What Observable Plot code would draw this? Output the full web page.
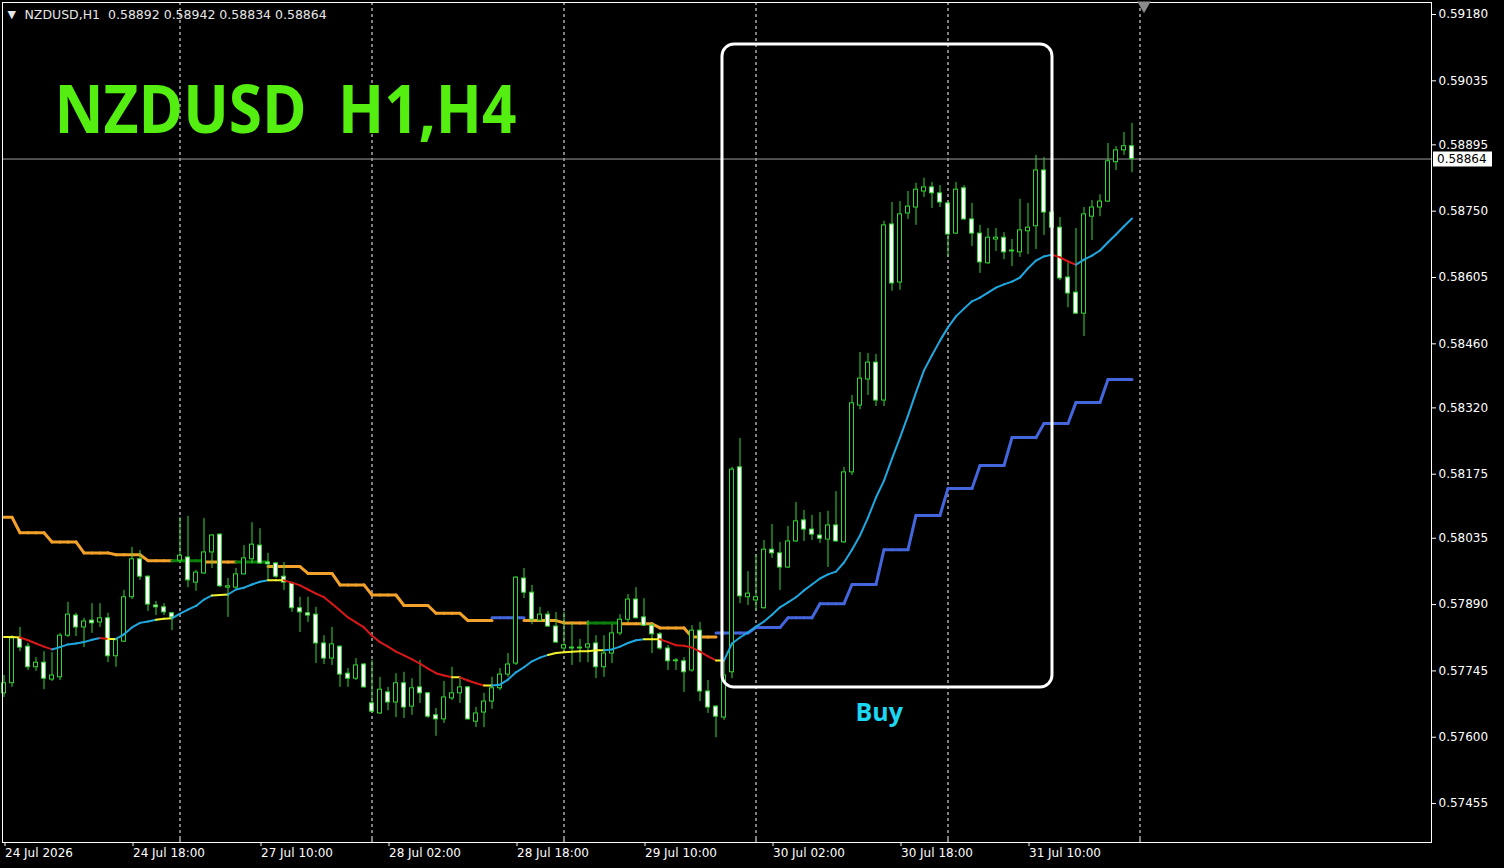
<!DOCTYPE html>
<html><head><meta charset="utf-8">
<script src="https://cdn.jsdelivr.net/npm/d3@7"></script>
<script src="https://cdn.jsdelivr.net/npm/@observablehq/plot@0.6"></script>
<style>html,body{margin:0;padding:0;background:#000;overflow:hidden}</style>
</head><body><div id="chart"></div>
<script>
// ---------- DATA ----------
const symbol = "NZDUSD";
const timeframe = "H1";
const title = "NZDUSD  H1,H4";
const firstBarHour = 2;           // first bar = 24 Jul 2026 02:00
// OHLC of each H1 bar
const candles = [
[0.57696,0.57735,0.57687,0.57718],[0.57718,0.57822,0.57709,0.57816],[0.57816,0.57840,0.57787,0.57796],[0.57798,0.57805,0.57746,0.57753],
[0.57753,0.57774,0.57744,0.57763],[0.57763,0.57787,0.57704,0.57728],[0.57726,0.57785,0.57722,0.57735],[0.57731,0.57827,0.57724,0.57822],
[0.57822,0.57895,0.57818,0.57868],[0.57866,0.57871,0.57820,0.57840],[0.57840,0.57860,0.57796,0.57853],[0.57855,0.57892,0.57827,0.57849],
[0.57851,0.57892,0.57840,0.57860],[0.57860,0.57871,0.57763,0.57777],[0.57777,0.57816,0.57753,0.57812],[0.57809,0.57921,0.57807,0.57906],
[0.57906,0.58015,0.57901,0.57989],[0.57989,0.58008,0.57943,0.57951],[0.57951,0.57953,0.57875,0.57890],[0.57888,0.57897,0.57866,0.57884],
[0.57884,0.57892,0.57866,0.57873],[0.57871,0.57873,0.57833,0.57862],[0.57986,0.58080,0.57980,0.57997],[0.57993,0.58083,0.57927,0.57943],
[0.57938,0.57965,0.57919,0.57960],[0.57958,0.58078,0.57956,0.58004],[0.58004,0.58043,0.57969,0.58041],[0.58043,0.58045,0.57927,0.57930],
[0.57927,0.57947,0.57862,0.57930],[0.57927,0.57969,0.57921,0.57956],[0.57956,0.58019,0.57955,0.57991],[0.57989,0.58069,0.57980,0.58021],
[0.58019,0.58056,0.57978,0.57980],[0.57982,0.58002,0.57943,0.57978],[0.57980,0.57982,0.57947,0.57951],[0.57951,0.57982,0.57921,0.57938],
[0.57936,0.57938,0.57873,0.57882],[0.57882,0.57906,0.57829,0.57873],[0.57871,0.57906,0.57851,0.57866],[0.57868,0.57884,0.57761,0.57805],
[0.57805,0.57822,0.57759,0.57772],[0.57772,0.57840,0.57757,0.57803],[0.57798,0.57800,0.57709,0.57737],[0.57739,0.57750,0.57709,0.57728],
[0.57728,0.57772,0.57724,0.57757],[0.57759,0.57761,0.57707,0.57709],[0.57674,0.57768,0.57652,0.57656],[0.57652,0.57731,0.57650,0.57704],
[0.57698,0.57709,0.57658,0.57676],[0.57676,0.57739,0.57643,0.57718],[0.57718,0.57742,0.57641,0.57665],[0.57667,0.57728,0.57648,0.57707],
[0.57709,0.57768,0.57674,0.57696],[0.57696,0.57698,0.57641,0.57645],[0.57648,0.57663,0.57602,0.57639],[0.57639,0.57722,0.57630,0.57687],
[0.57685,0.57753,0.57680,0.57696],[0.57696,0.57728,0.57674,0.57709],[0.57709,0.57711,0.57637,0.57639],[0.57634,0.57665,0.57621,0.57652],
[0.57654,0.57696,0.57621,0.57678],[0.57678,0.57731,0.57661,0.57707],[0.57707,0.57750,0.57702,0.57737],[0.57737,0.57783,0.57731,0.57759],
[0.57761,0.57951,0.57757,0.57949],[0.57947,0.57969,0.57903,0.57916],[0.57916,0.57932,0.57846,0.57857],[0.57855,0.57884,0.57851,0.57868],
[0.57868,0.57875,0.57840,0.57842],[0.57842,0.57873,0.57805,0.57807],[0.57794,0.57873,0.57790,0.57801],[0.57794,0.57849,0.57757,0.57796],
[0.57794,0.57814,0.57763,0.57796],[0.57796,0.57855,0.57763,0.57803],[0.57805,0.57822,0.57728,0.57753],[0.57753,0.57822,0.57731,0.57783],
[0.57783,0.57846,0.57761,0.57827],[0.57827,0.57868,0.57822,0.57857],[0.57857,0.57912,0.57851,0.57901],[0.57901,0.57927,0.57859,0.57860],
[0.57862,0.57903,0.57842,0.57844],[0.57844,0.57849,0.57783,0.57825],[0.57825,0.57829,0.57790,0.57794],[0.57794,0.57801,0.57746,0.57766],
[0.57766,0.57772,0.57746,0.57768],[0.57766,0.57774,0.57698,0.57742],[0.57746,0.57844,0.57742,0.57833],[0.57833,0.57851,0.57678,0.57700],
[0.57700,0.57724,0.57652,0.57665],[0.57667,0.57669,0.57599,0.57645],[0.57643,0.57768,0.57637,0.57735],[0.57742,0.58190,0.57728,0.58185],
[0.58190,0.58253,0.57892,0.57908],[0.57906,0.57962,0.57888,0.57914],[0.57899,0.57999,0.57877,0.57906],[0.57882,0.58030,0.57880,0.58010],
[0.58010,0.58065,0.57991,0.58002],[0.58002,0.58026,0.57921,0.57971],[0.57971,0.58061,0.57969,0.58028],[0.58028,0.58113,0.58026,0.58072],
[0.58074,0.58096,0.58028,0.58054],[0.58054,0.58085,0.58030,0.58043],[0.58041,0.58091,0.58024,0.58034],[0.58032,0.58094,0.57971,0.58063],
[0.58063,0.58137,0.58026,0.58028],[0.58026,0.58190,0.58024,0.58179],[0.58179,0.58347,0.58172,0.58330],[0.58325,0.58441,0.58316,0.58384],
[0.58382,0.58439,0.58347,0.58419],[0.58419,0.58437,0.58323,0.58336],[0.58336,0.58728,0.58323,0.58719],[0.58721,0.58769,0.58575,0.58592],
[0.58594,0.58771,0.58577,0.58743],[0.58745,0.58793,0.58732,0.58760],[0.58758,0.58811,0.58719,0.58797],[0.58793,0.58822,0.58780,0.58802],
[0.58802,0.58813,0.58756,0.58789],[0.58789,0.58806,0.58758,0.58769],[0.58767,0.58769,0.58649,0.58699],[0.58701,0.58813,0.58699,0.58797],
[0.58800,0.58806,0.58730,0.58732],[0.58732,0.58767,0.58673,0.58701],[0.58701,0.58719,0.58614,0.58638],[0.58636,0.58712,0.58634,0.58692],
[0.58688,0.58712,0.58662,0.58692],[0.58692,0.58703,0.58644,0.58660],[0.58662,0.58688,0.58629,0.58664],[0.58660,0.58776,0.58649,0.58708],
[0.58706,0.58767,0.58655,0.58714],[0.58717,0.58872,0.58666,0.58839],[0.58839,0.58867,0.58697,0.58747],[0.58747,0.58762,0.58703,0.58714],
[0.58714,0.58736,0.58598,0.58603],[0.58605,0.58636,0.58539,0.58570],[0.58572,0.58712,0.58524,0.58526],[0.58526,0.58758,0.58476,0.58743],
[0.58738,0.58773,0.58686,0.58758],[0.58758,0.58786,0.58738,0.58771],[0.58771,0.58898,0.58769,0.58859],[0.58857,0.58891,0.58839,0.58883],
[0.58883,0.58922,0.58872,0.58892],[0.58892,0.58942,0.58834,0.58864]
];
// H1 moving average, one value per bar
const maH1 = [
0.57819,0.57819,0.57818,0.57812,0.57805,0.57798,0.57792,0.57797,0.57803,0.57805,
0.57808,0.57813,0.57817,0.57815,0.57815,0.57825,0.57840,0.57850,0.57853,0.57857,
0.57859,0.57860,0.57870,0.57879,0.57887,0.57901,0.57910,0.57911,0.57912,0.57923,
0.57927,0.57934,0.57940,0.57943,0.57943,0.57943,0.57938,0.57932,0.57923,0.57914,
0.57906,0.57892,0.57877,0.57862,0.57851,0.57840,0.57822,0.57808,0.57798,0.57787,
0.57779,0.57770,0.57761,0.57750,0.57740,0.57735,0.57731,0.57731,0.57724,0.57718,
0.57713,0.57713,0.57715,0.57726,0.57742,0.57753,0.57766,0.57774,0.57780,0.57784,
0.57786,0.57787,0.57788,0.57788,0.57790,0.57790,0.57792,0.57798,0.57806,0.57812,
0.57814,0.57814,0.57814,0.57808,0.57801,0.57800,0.57796,0.57787,0.57777,0.57768,
0.57768,0.57805,0.57818,0.57829,0.57842,0.57853,0.57868,0.57884,0.57895,0.57906,
0.57921,0.57934,0.57947,0.57956,0.57962,0.57982,0.58010,0.58041,0.58080,0.58124,
0.58161,0.58209,0.58255,0.58303,0.58354,0.58402,0.58435,0.58467,0.58496,0.58520,
0.58537,0.58553,0.58561,0.58572,0.58583,0.58590,0.58596,0.58605,0.58625,0.58642,
0.58651,0.58655,0.58649,0.58640,0.58633,0.58644,0.58653,0.58664,0.58682,0.58699,
0.58717,0.58734
];
// trend state of each H1 MA segment, run-length: [state, number of segments]
const maTrendRuns = [["f",2],["d",4],["u",6],["d",1],["f",1],["u",5],["f",2],["u",5],["f",2],["u",5],["f",2],
  ["d",21],["f",1],["d",3],["f",1],["u",7],["f",7],["u",5],["f",2],["d",7],["f",1],["u",41],["d",3],["u",7]];
// H4 moving average, one value per H4 bar
const maH4 = [0.58081,0.58047,0.58027,0.58003,0.57999,0.57986,0.57986,0.57983,0.57983,0.57973,0.57958,0.57933,
  0.57911,0.57888,0.57871,0.57855,0.57861,0.57855,0.57850,0.57850,0.57848,0.57839,0.57819,0.57828,
  0.57840,0.57861,0.57892,0.57934,0.58010,0.58085,0.58144,0.58194,0.58255,0.58286,0.58332,0.58382];
const maH4TrendRuns = [["d",6],["f",1],["d",1],["f",1],["d",7],["u",1],["d",2],["f",1],["d",3],["u",13]];

const xTickBars = [0,16,32,48,64,80,96,112,128];
const xTickLabels = ["24 Jul 2026","24 Jul 18:00","27 Jul 10:00","28 Jul 02:00","28 Jul 18:00","29 Jul 10:00","30 Jul 02:00","30 Jul 18:00","31 Jul 10:00"];
const dayStartBars = [22,46,70,94,118,142];
const yTicks = [0.59180,0.59035,0.58895,0.58750,0.58605,0.58460,0.58320,0.58175,0.58035,0.57890,0.57745,0.57600,0.57455];
const barRange = [-0.1875, 178.4375];
const priceRange = [0.573699, 0.592062];
const buyBox = {fromBar: 89.81, toBar: 131.06, top: 0.591144, bottom: 0.577088};
const buyLabel = {bar: 109.4, price: 0.57652, text: "Buy"};
const shiftMarkerBar = 142.5;

// ---------- BUILD ----------
const bars = candles.map(([o,h,l,c],i)=>({i,o,h,l,c}));
const last = bars[bars.length-1];
const maStates = maTrendRuns.flatMap(([s,n]) => Array(n).fill(s));
const maSeg = maStates.map((s,k)=>({x1:k,x2:k+1,y1:maH1[k],y2:maH1[k+1],s}));
const h4States = maH4TrendRuns.flatMap(([s,n]) => Array(n).fill(s));
const h4g = i => Math.floor((i + firstBarHour % 4) / 4);
const h4Seg = [];
for (let i = 1; i < bars.length; i++) {
  const ga = h4g(i-1), gb = h4g(i), s = h4States[gb];
  let y1 = maH4[gb];
  if (ga !== gb && h4States[ga] === s) y1 = maH4[ga];
  h4Seg.push({x1:i-1,x2:i,y1,y2:maH4[gb],s});
}
const maColors = {u:"#1fa8e0", d:"#d81818", f:"#f2f22e"};
const h4Colors = {u:"#4466dd", d:"#f2a12a", f:"#0d7f0d"};
const candleColor = "#34d634";
const fmt = v => v.toFixed(5);
const header = `${symbol},${timeframe}  ${fmt(last.o)} ${fmt(last.h)} ${fmt(last.l)} ${fmt(last.c)}`;

const plot = Plot.plot({
  width: 1504, height: 868,
  marginLeft: 2, marginRight: 73, marginTop: 2, marginBottom: 26,
  style: {background: "#000", color: "#fff", fontFamily: "DejaVu Sans", fontSize: "12px"},
  x: {domain: barRange, axis: null},
  y: {domain: priceRange, axis: null},
  marks: [
    Plot.ruleX(dayStartBars, {x: d => d, stroke: "#fff", strokeDasharray: "3,3", strokeWidth: 1}),
    Plot.ruleY([last.c], {stroke: "#9c9c9c", strokeWidth: 1}),
    Plot.link(h4Seg, {x1:"x1", y1:"y1", x2:"x2", y2:"y2", stroke: d => h4Colors[d.s], strokeWidth: 3, strokeLinecap: "round"}),
    Plot.ruleX(bars, {x: "i", y1: "l", y2: "h", stroke: candleColor, strokeWidth: 1}),
    Plot.rect(bars, {x1: d => d.i - 0.25, x2: d => d.i + 0.25, y1: "o", y2: "c",
      fill: d => d.c < d.o ? "#ffffff" : "#000000", stroke: candleColor, strokeWidth: 1}),
    Plot.ruleY(bars.filter(d => d.o === d.c), {y: "c", x1: d => d.i - 0.25, x2: d => d.i + 0.25, stroke: candleColor}),
    Plot.link(maSeg, {x1:"x1", y1:"y1", x2:"x2", y2:"y2", stroke: d => maColors[d.s], strokeWidth: 2, strokeLinecap: "round"}),
    Plot.rect([buyBox], {x1: "fromBar", x2: "toBar", y1: "top", y2: "bottom", fill: "none", stroke: "#fff", strokeWidth: 3, rx: 12}),
    Plot.text([buyLabel], {x: "bar", y: "price", text: "text", fill: "#1cd6f2", fontSize: 25, fontWeight: "bold", fontFamily: "Open Sans"}),
    Plot.frame({stroke: "#fff"}),
    Plot.axisY(yTicks, {anchor: "right", tickSize: 4, tickPadding: 3, tickFormat: fmt, fontSize: 12, label: null}),
    Plot.axisX(xTickBars, {anchor: "bottom", tickSize: 4, tickPadding: 2, textAnchor: "start", dx: 1,
      tickFormat: d => xTickLabels[xTickBars.indexOf(d)], fontSize: 12, label: null}),
    Plot.axisX(dayStartBars, {anchor: "bottom", tickSize: -3, tickFormat: () => "", label: null}),
    Plot.dot([shiftMarkerBar], {x: d => d, frameAnchor: "top", symbol: "triangle", rotate: 180, r: 5, fill: "#8a8a8a", dy: 3}),
    Plot.text(["▼"], {frameAnchor: "top-left", dx: 5, dy: 12, textAnchor: "start", lineAnchor: "middle", fontSize: 11, fill: "#e6e6e6"}),
    Plot.text([header], {frameAnchor: "top-left", dx: 22, dy: 12.5, textAnchor: "start", lineAnchor: "middle", fontSize: 12.5, fill: "#e6e6e6"}),
    Plot.text([title], {frameAnchor: "top-left", dx: 52, dy: 109, textAnchor: "start", lineAnchor: "middle",
      fontSize: 66, fontWeight: "bold", fontFamily: "Open Sans", fill: "#55ee11"})
  ]
});
document.getElementById("chart").appendChild(plot);

// current price label box on the price scale
const svg = d3.select(plot);
svg.selectAll("text").filter(function(){ return this.textContent === title; })
  .attr("textLength", 462).attr("lengthAdjust", "spacingAndGlyphs");
const yPx = plot.scale("y").apply(last.c);
const xEdge = 1504 - 73;
const g = svg.append("g").attr("text-anchor", "start");
g.append("rect").attr("x", xEdge + 2).attr("y", Math.round(yPx) - 7.5).attr("width", 59).attr("height", 15).attr("fill", "#fff");
g.append("text").attr("x", xEdge + 6).attr("y", yPx).attr("dy", "0.35em").attr("fill", "#000").attr("text-anchor", "start")
  .attr("font-family", "DejaVu Sans").attr("font-size", 12).text(fmt(last.c));
</script></body></html>
